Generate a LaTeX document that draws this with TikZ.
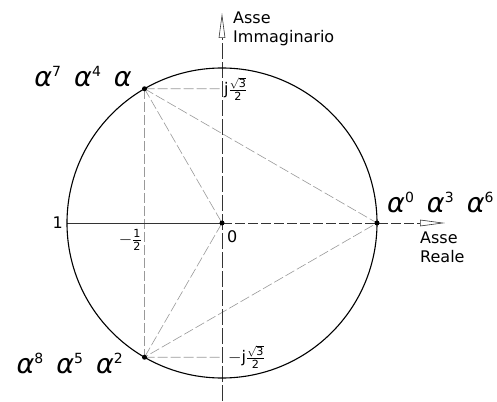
\documentclass[tikz,border=0pt]{standalone}
\usepackage{amsmath}
\usepackage{fontspec}
\setmainfont{DejaVu Sans}
\usetikzlibrary{arrows.meta}

% exponent of alpha
\newcommand{\pw}[1]{\raisebox{10pt}{\upshape\fontsize{14}{14}\selectfont #1}}

\begin{document}
\begin{tikzpicture}[x=1pt,y=1pt,
  axis/.style={line width=.6pt, black!80},
  guide/.style={line width=.6pt, black!40, dash pattern=on 10pt off 3pt},
  head/.style={-{Triangle[open,length=25pt,width=6.5pt,line width=.6pt]}},
  dot/.style={circle, fill=black, inner sep=0pt, minimum size=5pt},
  big/.style={font=\fontsize{27}{29}\selectfont\itshape, inner sep=0pt},
  lab/.style={font=\fontsize{16}{19}\selectfont, inner sep=0pt}]
\useasboundingbox (-222,-178) rectangle (275,223);

\coordinate (O) at (0,0);
\coordinate (a1) at (120:155);
\coordinate (a2) at (240:155);
\coordinate (a0) at (0:155);
\coordinate (L) at (180:155);
\coordinate (ja) at (0,134.2);
\coordinate (jb) at (0,-134.2);
\coordinate (top) at (0,210);
\coordinate (bot) at (0,-178);
\coordinate (re) at (223,0);

% guide lines
\draw[guide] (a1) -- (ja);
\draw[guide] (a2) -- (jb);
\draw[guide] (a1) -- (a2);
\draw[guide] (a1) -- (a0) -- (a2);
\draw[guide] (a1) -- (O) -- (a2);

% axes
\draw[axis, dash pattern=on 16pt off 3pt, head] (bot) -- (top);
\draw[axis] (L) -- (O);
\draw[axis, dash pattern=on 10pt off 3pt, head] (O) -- (re);

\draw[line width=1.1pt] (O) circle (155);

\node[dot] (p1) at (a1) {};
\node[dot] (p2) at (a2) {};
\node[dot] (p0) at (a0) {};
\node[dot] (p00) at (O) {};

% labels
\node[big, anchor=base east] (l1) at (-90,136) {α\pw{7}\,\ α\pw{4}\,\ α};
\node[big, anchor=base east] (l2) at (-99,-150) {α\pw{8}\,\ α\pw{5}\,\ α\pw{2}};
\node[big, anchor=base west] (l0) at (165,10) {α\pw{0}\,\ α\pw{3}\,\ α\pw{6}};

\node[lab, anchor=base west, align=left] (im) at (11,180) {Asse\\Immaginario};
\node[lab, anchor=base west, align=left] (rl) at (198,-39) {Asse\\Reale};

\node[lab, anchor=east] (one) at (-159,0) {1};
\node[lab, anchor=east] (half) at (-80,-17) {$-\frac{\text{1}}{\text{2}}$};
\node[lab, anchor=west] (zero) at (5,-14) {0};
\node[lab, anchor=west] (jp) at (2,134) {j$\frac{\sqrt{\text{3}}}{\text{2}}$};
\node[lab, anchor=west] (jm) at (6,-134) {$-$j$\frac{\sqrt{\text{3}}}{\text{2}}$};
\end{tikzpicture}
\end{document}
